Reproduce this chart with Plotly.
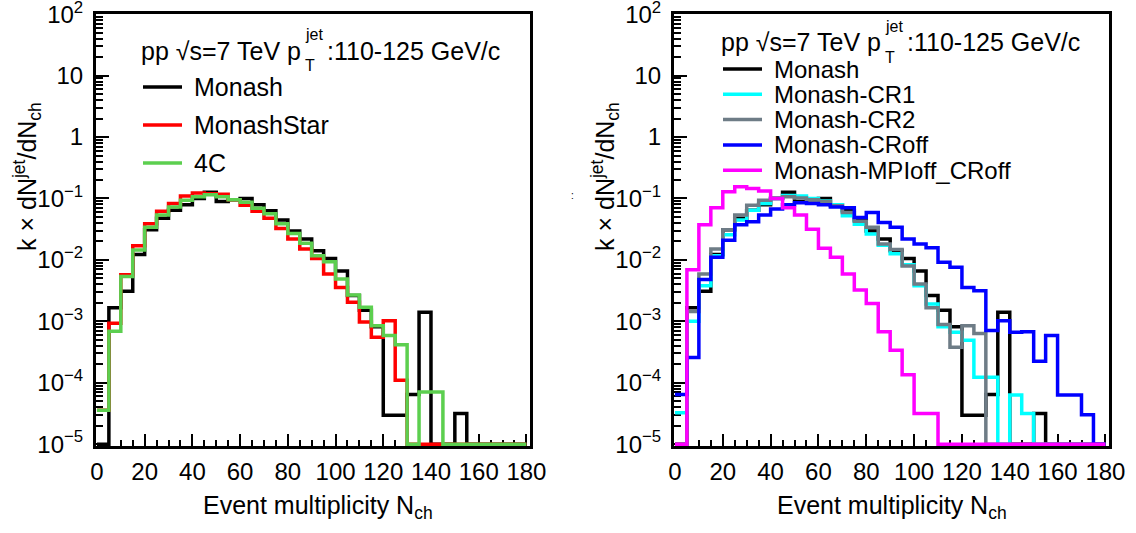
import plotly.graph_objects as go

# ---- data: k x dN^jet/dN_ch per 5-unit N_ch bin (bins 0-5, 5-10, ..., 175-180) ----
bin_edges = list(range(0, 185, 5))

monash = [0, 1.66e-3, 3.09e-3, 1.23e-2, 3.09e-2, 4.79e-2, 6.46e-2, 7.94e-2, 0.100, 0.126,
          8.91e-2, 9.55e-2, 0.100, 7.94e-2, 6.31e-2, 4.47e-2, 2.95e-2, 2.19e-2, 1.41e-2, 1.05e-2,
          6.61e-3, 2.63e-3, 1.51e-3, 8.13e-4, 2.95e-5, 2.95e-5, 6.46e-5, 1.41e-3, 0, 0,
          3.16e-5, 0, 0, 0, 0, 0]

monash_star = [3.55e-5, 9.33e-4, 5.75e-3, 1.70e-2, 3.89e-2, 6.17e-2, 8.32e-2, 0.110, 0.123, 0.120,
               0.117, 9.55e-2, 7.76e-2, 6.17e-2, 4.79e-2, 3.24e-2, 2.19e-2, 1.51e-2, 1.05e-2, 5.89e-3,
               3.55e-3, 2.04e-3, 9.77e-4, 5.50e-4, 1.02e-3, 1.10e-4, 0, 0, 0, 0,
               0, 0, 0, 0, 0, 0]

tune_4c = [3.55e-5, 6.92e-4, 5.37e-3, 1.45e-2, 3.39e-2, 5.37e-2, 7.24e-2, 9.33e-2, 0.107, 0.115,
           0.107, 9.55e-2, 8.71e-2, 6.92e-2, 5.62e-2, 3.89e-2, 2.69e-2, 1.86e-2, 1.17e-2, 9.33e-3,
           4.90e-3, 2.69e-3, 1.70e-3, 8.51e-4, 5.89e-4, 4.17e-4, 0, 7.08e-5, 7.08e-5, 0,
           0, 0, 0, 0, 0, 0]

monash_cr1 = [3.24e-5, 1.00e-3, 3.80e-3, 1.17e-2, 2.57e-2, 4.47e-2, 6.46e-2, 8.32e-2, 0.100, 0.112,
              0.110, 0.100, 9.12e-2, 7.94e-2, 5.25e-2, 3.80e-2, 2.63e-2, 1.74e-2, 1.26e-2, 8.32e-3,
              3.80e-3, 1.91e-3, 8.13e-4, 6.61e-4, 4.90e-4, 1.23e-4, 1.23e-4, 0, 6.31e-5, 3.16e-5,
              0, 0, 0, 0, 0, 0]

monash_cr2 = [0, 1.45e-3, 5.89e-3, 1.51e-2, 3.09e-2, 5.37e-2, 7.76e-2, 9.33e-2, 0.102, 0.107,
              0.102, 9.55e-2, 8.91e-2, 7.59e-2, 5.89e-2, 4.27e-2, 3.39e-2, 1.82e-2, 1.48e-2, 7.94e-3,
              4.07e-3, 1.66e-3, 8.91e-4, 3.80e-4, 8.51e-4, 6.31e-4, 0, 0, 0, 0,
              0, 0, 0, 0, 0, 0]

monash_croff = [6.46e-5, 2.57e-4, 4.79e-3, 1.10e-2, 2.09e-2, 3.72e-2, 4.17e-2, 5.37e-2, 6.76e-2, 7.94e-2,
                8.51e-2, 8.32e-2, 7.94e-2, 7.24e-2, 7.08e-2, 4.90e-2, 5.89e-2, 4.07e-2, 3.39e-2, 2.19e-2,
                1.82e-2, 1.58e-2, 9.12e-3, 7.59e-3, 3.55e-3, 3.16e-3, 7.08e-4, 1.02e-3, 6.61e-4, 6.76e-4,
                2.24e-4, 5.89e-4, 6.31e-5, 6.31e-5, 3.02e-5, 0]

monash_mpioff_croff = [0, 6.92e-3, 3.72e-2, 7.08e-2, 0.129, 0.155, 0.145, 0.132, 0.100, 7.08e-2,
                       5.37e-2, 3.16e-2, 1.55e-2, 1.10e-2, 5.89e-3, 3.24e-3, 1.95e-3, 6.76e-4, 3.39e-4, 1.35e-4,
                       3.16e-5, 3.16e-5, 0, 0, 0, 0, 0, 0, 0, 0,
                       0, 0, 0, 0, 0, 0]

left_series = [("Monash", monash, "#000000"),
               ("MonashStar", monash_star, "#ff0000"),
               ("4C", tune_4c, "#5ccf4f")]
right_series = [("Monash", monash, "#000000"),
                ("Monash-CR1", monash_cr1, "#00ffff"),
                ("Monash-CR2", monash_cr2, "#6e7c86"),
                ("Monash-CRoff", monash_croff, "#0000ff"),
                ("Monash-MPIoff_CRoff", monash_mpioff_croff, "#ff00ff")]

x_ticks = list(range(0, 200, 20))
y_decades = list(range(-5, 3))
y_ticktext = ["10<sup>\u22125</sup>", "10<sup>\u22124</sup>", "10<sup>\u22123</sup>",
              "10<sup>\u22122</sup>", "10<sup>\u22121</sup>", "1", "10", "10<sup>2</sup>"]

# ---- drawing ----
W, H = 1136, 533
Y_FLOOR = 1e-5          # empty bins sit on the frame bottom
FONT = "Liberation Sans, Arial, Helvetica, sans-serif"
LINE_W = 3.5


def px(x):
    return x / W


def py(y):
    return 1 - y / H


def step_y(values):
    y = [max(v, Y_FLOOR) for v in values]
    return y + [y[-1]]


fig = go.Figure()
for name, vals, col in left_series:
    fig.add_trace(go.Scatter(x=bin_edges, y=step_y(vals), mode="lines", name=name,
                             line=dict(color=col, width=LINE_W, shape="hv"),
                             xaxis="x", yaxis="y", showlegend=False))
for name, vals, col in right_series:
    fig.add_trace(go.Scatter(x=bin_edges, y=step_y(vals), mode="lines", name=name,
                             line=dict(color=col, width=LINE_W, shape="hv"),
                             xaxis="x2", yaxis="y2", showlegend=False))

minor_y = [k * 10.0 ** d for d in range(-5, 2) for k in range(2, 10)]


def x_axis(domain, anchor):
    return dict(domain=domain, anchor=anchor, range=[-0.4, 181.5], showgrid=False, zeroline=False,
                showline=True, mirror=True, linecolor="black", linewidth=3, automargin=False,
                ticks="inside", ticklen=12, tickwidth=2, tickcolor="black",
                tickvals=x_ticks, ticktext=[str(v) for v in x_ticks], ticklabelstandoff=2,
                ticklabeloverflow="allow",
                minor=dict(ticks="inside", ticklen=6, tickwidth=2, tickcolor="black", dtick=5, tick0=0),
                tickfont=dict(family=FONT, size=24, color="black"), layer="below traces")


def y_axis(domain, anchor):
    return dict(domain=domain, anchor=anchor, type="log", range=[-5.03, 2.004], showgrid=False,
                zeroline=False, showline=True, mirror=True, linecolor="black", linewidth=3,
                automargin=False, ticks="inside", ticklen=13, tickwidth=2, tickcolor="black",
                tickvals=[10.0 ** d for d in y_decades], ticktext=y_ticktext, ticklabelstandoff=5,
                ticklabeloverflow="allow",
                minor=dict(ticks="inside", ticklen=7, tickwidth=2, tickcolor="black", tickvals=minor_y),
                tickfont=dict(family=FONT, size=24, color="black"), layer="below traces")


ydom = [py(446), py(14)]
fig.update_layout(
    width=W, height=H, margin=dict(l=0, r=0, t=0, b=0, autoexpand=False),
    paper_bgcolor="white", plot_bgcolor="white",
    xaxis=x_axis([px(96), px(530)], "y"),
    yaxis=y_axis(ydom, "x"),
    xaxis2=x_axis([px(674), px(1109)], "y2"),
    yaxis2=y_axis(ydom, "x2"),
)

ann = []
shapes = []


def text(x, y, s, size=25, xanchor="left", yanchor="middle", angle=0):
    ann.append(dict(x=px(x), y=py(y), xref="paper", yref="paper", text=s, showarrow=False,
                    xanchor=xanchor, yanchor=yanchor, textangle=angle,
                    font=dict(family=FONT, size=size, color="black")))


def header(x0, yc, x_sub, x_rest):
    text(x0, yc, "pp \u221as=7 TeV p")
    text(x_sub, yc - 16, "jet", size=16)
    text(x_sub, yc + 15, "T", size=16)
    text(x_rest, yc, ":110-125 GeV/c")


header(139, 51, 303, 325)
header(719, 42, 883, 905)

# legend blocks
for i, (name, _, col) in enumerate(left_series):
    yy = 87 + 38 * i
    shapes.append(dict(type="line", xref="paper", yref="paper", x0=px(143), x1=px(182),
                       y0=py(yy), y1=py(yy), line=dict(color=col, width=LINE_W)))
    text(192, yy, name)
for i, (name, _, col) in enumerate(right_series):
    yy = 69 + 25.3 * i
    shapes.append(dict(type="line", xref="paper", yref="paper", x0=px(723), x1=px(762),
                       y0=py(yy), y1=py(yy), line=dict(color=col, width=LINE_W)))
    text(772, yy, name, size=24)

# axis titles
ytitle = "k \u00d7 dN<sup>jet</sup>/dN<sub>ch</sub>"
text(27, 177, ytitle, xanchor="center", angle=-90)
text(605, 177, ytitle, xanchor="center", angle=-90)
text(572, 196, ":", size=10, xanchor="center")
xtitle = "Event multiplicity N<sub>ch</sub>"
text(318, 507, xtitle, xanchor="center")
text(892, 507, xtitle, xanchor="center")

fig.update_layout(annotations=ann, shapes=shapes)
fig.write_html("out.html")
